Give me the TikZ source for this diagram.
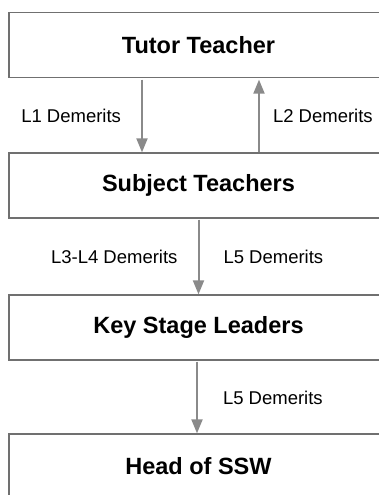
\documentclass[tikz,border=0pt]{standalone}
\usepackage{fontspec}
\setmainfont{Liberation Sans}
\usetikzlibrary{arrows.meta}
\definecolor{boxgray}{HTML}{707070}
\definecolor{arrowgray}{HTML}{8A8A8A}
\tikzset{>={Triangle[width=11pt,length=14pt]},
    level/.style={draw=boxgray, line width=1.3pt, minimum width=379pt, minimum height=65pt,
        inner sep=0pt, font=\fontsize{23.5}{28}\selectfont\bfseries},
    flow/.style={->, draw=arrowgray, line width=2pt},
    lbl/.style={font=\fontsize{18.5}{22}\selectfont, inner sep=0pt}}

\begin{document}
\begin{tikzpicture}[x=1pt, y=-1pt]
        \useasboundingbox (0,0) rectangle (379,495);
        \clip (0,0) rectangle (379,495);
        \node[level] (tutor) at (198.5,45) {Tutor Teacher};
        \node[level] (subj) at (198.5,185.5) {Subject Teachers};
        \node[level] (ksl) at (198.5,327.5) {Key Stage Leaders};
        \node[level] (head) at (198.5,466.5) {Head of SSW};
        \draw[flow] ([xshift=-56.5pt,yshift=-1.5pt]tutor.south) -- ([xshift=-56.5pt]subj.north)
            node[lbl, midway, left=20pt] {L1 Demerits};
        \draw[flow] ([xshift=60.5pt]subj.north) -- ([xshift=60.5pt,yshift=-1.5pt]tutor.south)
            node[lbl, midway, right=13pt] {L2 Demerits};
        \draw[flow] ([yshift=-1pt]subj.south) -- (ksl.north)
            node[lbl, midway, left=20pt] {L3-L4 Demerits}
            node[lbl, midway, right=24pt] {L5 Demerits};
        \draw[flow] ([xshift=-1.5pt,yshift=-1pt]ksl.south) -- ([xshift=-1.5pt]head.north)
            node[lbl, midway, right=25pt] {L5 Demerits};
    \end{tikzpicture}
\end{document}
